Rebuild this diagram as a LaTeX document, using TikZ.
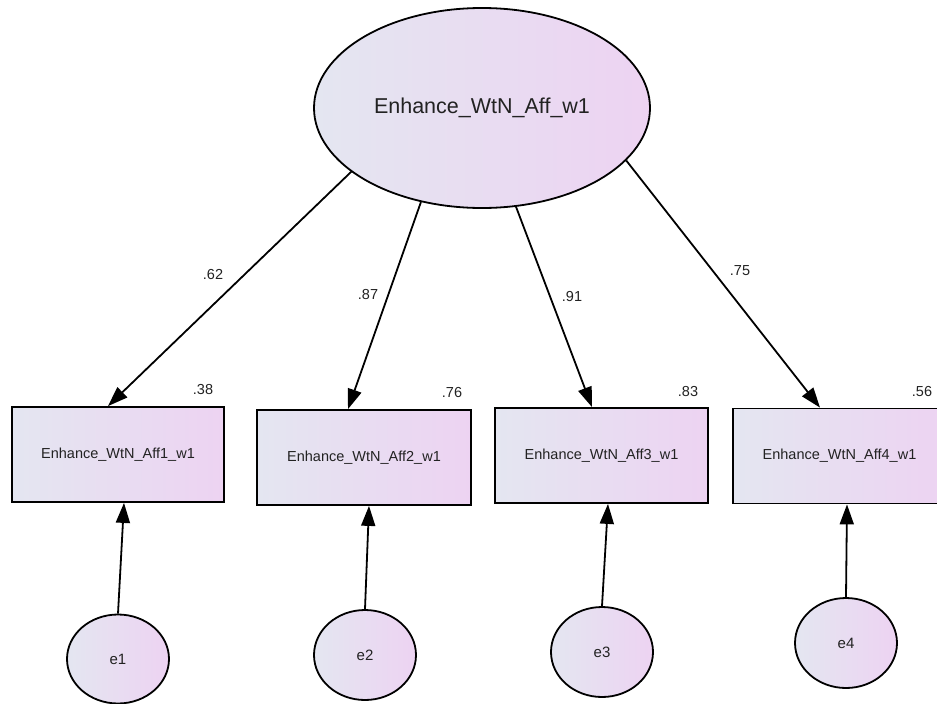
\documentclass[tikz,border=0pt]{standalone}
\usepackage{fontspec}
\setmainfont{Liberation Sans}
\usetikzlibrary{shapes.geometric,arrows.meta}
\definecolor{fillL}{RGB}{228,230,241}
\definecolor{fillR}{RGB}{237,211,242}
\definecolor{txt}{RGB}{34,34,34}
\tikzset{
  latent/.style={ellipse, draw=black, line width=1.8pt, left color=fillL, right color=fillR, inner sep=0pt, text=txt},
  obsbox/.style={rectangle, draw=black, line width=1.8pt, left color=fillL, right color=fillR, minimum width=212pt, minimum height=95pt, inner sep=0pt, text=txt, font=\fontsize{14.5}{16}\selectfont},
  errnode/.style={latent, minimum width=102pt, minimum height=89pt, font=\fontsize{15}{17}\selectfont},
  coef/.style={text=txt, inner sep=0pt, font=\fontsize{14.5}{16}\selectfont},
  path/.style={draw=black, line width=1.8pt, -{Triangle[length=20pt,width=14pt]}}
}
\begin{document}
\begin{tikzpicture}[x=1pt,y=-1pt]
\useasboundingbox (0,0) rectangle (937,704);
\fill[white] (0,0) rectangle (937,704);
% latent
\node[latent, minimum width=336pt, minimum height=200pt, font=\fontsize{21.5}{24}\selectfont] (E) at (482,108) {Enhance\_WtN\_Aff\_w1};
% observed
\node[obsbox] (b1) at (118,454.5) {Enhance\_WtN\_Aff1\_w1};
\node[obsbox, minimum width=214pt] (b2) at (364,457.5) {Enhance\_WtN\_Aff2\_w1};
\node[obsbox, minimum width=213pt] (b3) at (601.5,455.5) {Enhance\_WtN\_Aff3\_w1};
\node[obsbox, minimum width=213pt] (b4) at (839.5,456) {Enhance\_WtN\_Aff4\_w1};
% errors
\node[errnode] (e1) at (118,659) {e1};
\node[errnode, minimum height=90pt] (e2) at (365,655) {e2};
\node[errnode, minimum height=90pt] (e3) at (602,652) {e3};
\node[errnode, minimum height=90pt] (e4) at (846,643) {e4};
% loadings
\draw[path] (E.206) -- ([xshift=-10pt]b1.north);
\draw[path] (E.237) -- ([xshift=-16pt]b2.north);
\draw[path] (E.289) -- ([xshift=-9.5pt]b3.north);
\draw[path] (E.340) -- ([xshift=-19.5pt]b4.north);
% error paths
\draw[path] (e1.north) -- ([xshift=6pt]b1.south);
\draw[path] (e2.north) -- ([xshift=5pt]b2.south);
\draw[path] (e3.north) -- ([xshift=6.5pt]b3.south);
\draw[path] (e4.north) -- ([xshift=7.5pt]b4.south);
% coefficients
\node[coef] (l1) at (213,275) {.62};
\node[coef] (l2) at (368,295) {.87};
\node[coef] (l3) at (572,297) {.91};
\node[coef] (l4) at (740,271) {.75};
\node[coef] (r1) at (203,390) {.38};
\node[coef] (r2) at (452,393) {.76};
\node[coef] (r3) at (688,392) {.83};
\node[coef] (r4) at (922,392) {.56};
\end{tikzpicture}
\end{document}
